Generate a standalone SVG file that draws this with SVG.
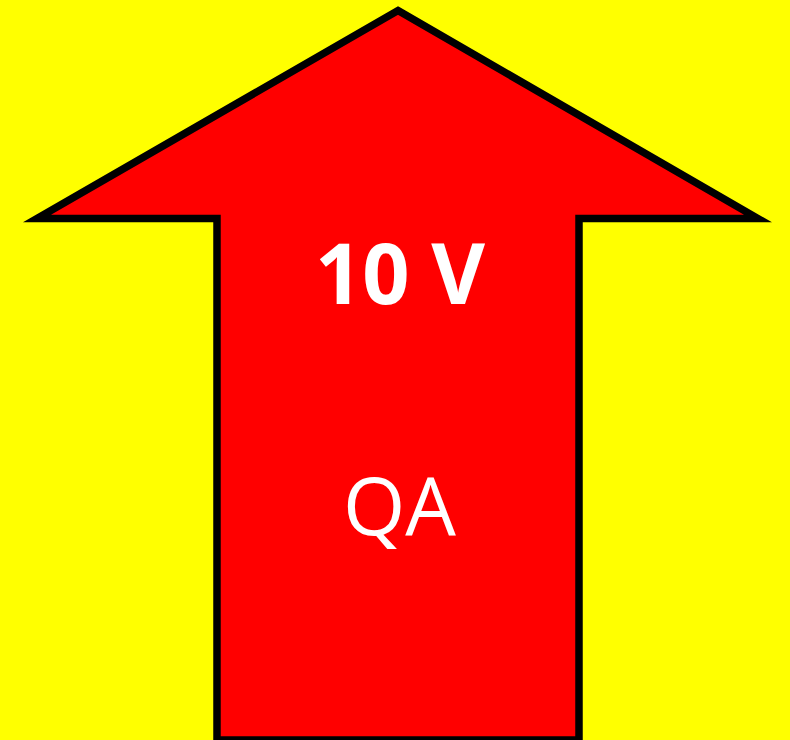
<svg xmlns="http://www.w3.org/2000/svg" width="790" height="740" viewBox="0 0 790 740">
<style>
.lbl{fill:#ffffff;font-family:"Open Sans","Liberation Sans",sans-serif;text-anchor:middle}
</style>
<rect x="0" y="0" width="790" height="740" fill="#ffff00"/>
<g id="arrow">
<polygon points="398,10.5 758,218.5 579,218.5 579,740 217,740 217,218.5 37,218.5" fill="#ff0000" stroke="#000000" stroke-width="7.5" stroke-miterlimit="10"/>
<text class="lbl" x="400" y="304" font-size="84" font-weight="bold" textLength="170" lengthAdjust="spacingAndGlyphs">10 V</text>
<text class="lbl" x="399.5" y="535" font-size="81" textLength="113" lengthAdjust="spacingAndGlyphs">QA</text>
</g>
</svg>
